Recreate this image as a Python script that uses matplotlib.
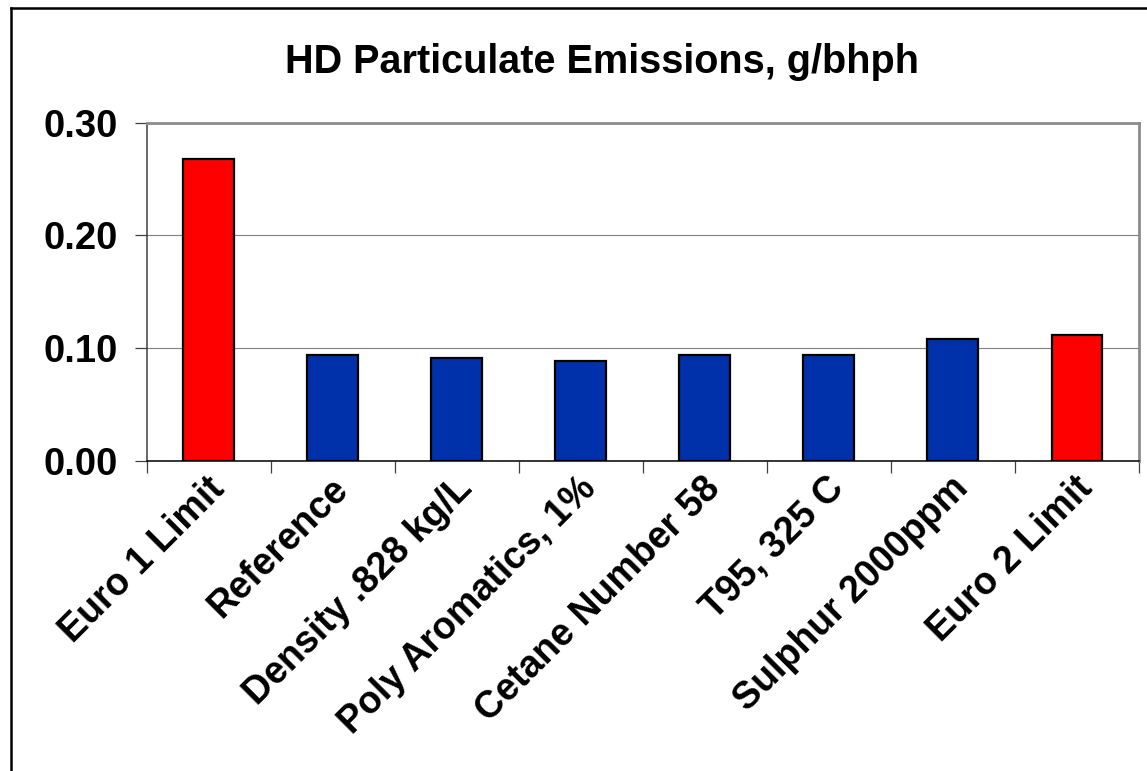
import matplotlib
matplotlib.use("Agg")
import matplotlib.pyplot as plt
from matplotlib.lines import Line2D
from matplotlib.ticker import FixedLocator, FormatStrFormatter
from matplotlib.transforms import ScaledTranslation

plt.rcParams["font.family"] = ["Liberation Sans", "DejaVu Sans"]

TITLE = "HD Particulate Emissions, g/bhph"
categories = [
    "Euro 1 Limit",
    "Reference",
    "Density .828 kg/L",
    "Poly Aromatics, 1%",
    "Cetane Number 58",
    "T95, 325 C",
    "Sulphur 2000ppm",
    "Euro 2 Limit",
]
pm_values = [0.268, 0.094, 0.091, 0.089, 0.094, 0.094, 0.108, 0.112]
is_limit = [True, False, False, False, False, False, False, True]
y_ticks = [0.0, 0.1, 0.2, 0.3]

LIMIT_COLOR = "#FF0000"
FUEL_COLOR = "#0030AA"
FRAME_GREY = "#8C8C8C"

fig = plt.figure(figsize=(11.47, 7.71), dpi=100)
ax = fig.add_axes([0.1279, 0.4021, 0.8651, 0.4388])

x = list(range(len(categories)))
colors = [LIMIT_COLOR if lim else FUEL_COLOR for lim in is_limit]
ax.bar(x, pm_values, width=0.41, color=colors, edgecolor="black",
       linewidth=1.6, zorder=3)

ax.set_xlim(-0.5, len(categories) - 0.5)
ax.set_ylim(0, 0.30)

# y axis
ax.set_yticks(y_ticks)
ax.yaxis.set_major_formatter(FormatStrFormatter("%.2f"))
ax.tick_params(axis="y", direction="out", length=8.5, width=0.9,
               color="#404040", pad=12, labelsize=27.5)
for lbl in ax.get_yticklabels():
    lbl.set_fontweight("bold")
ax.yaxis.grid(True, color="#808080", linewidth=0.8, zorder=0)

# x axis: tick marks between categories, labels under each bar
ax.set_xticks(x)
ax.set_xticklabels(categories, fontsize=27, fontweight="bold")
ax.xaxis.set_minor_locator(FixedLocator([i - 0.5 for i in range(len(categories) + 1)]))
ax.tick_params(axis="x", which="major", length=0, pad=16)
ax.tick_params(axis="x", which="minor", direction="out", length=8.5,
               width=0.9, color="#404040")
shift = ScaledTranslation(10 / 100, 0, fig.dpi_scale_trans)
for lbl in ax.get_xticklabels():
    lbl.set_rotation(45)
    lbl.set_ha("right")
    lbl.set_va("center")
    lbl.set_rotation_mode("anchor")
    lbl.set_transform(lbl.get_transform() + shift)

# plot-area border
ax.spines["top"].set_color(FRAME_GREY)
ax.spines["top"].set_linewidth(2.0)
ax.spines["right"].set_color(FRAME_GREY)
ax.spines["right"].set_linewidth(2.0)
ax.spines["left"].set_color("#404040")
ax.spines["left"].set_linewidth(1.1)
ax.spines["bottom"].set_color("black")
ax.spines["bottom"].set_linewidth(1.1)

fig.text(602 / 1147, 1 - 73.3 / 771, TITLE, ha="center", va="baseline",
         fontsize=28.5, fontweight="bold")

# chart frame (only top and left edges fall inside the image)
fx, fy = 11 / 1147, 1 - 8 / 771
fig.add_artist(Line2D([fx, fx], [-0.1, fy], transform=fig.transFigure,
                      color="black", linewidth=1.8))
fig.add_artist(Line2D([fx, 1.1], [fy, fy], transform=fig.transFigure,
                      color="black", linewidth=1.8))

fig.savefig("out.png", dpi=100)
